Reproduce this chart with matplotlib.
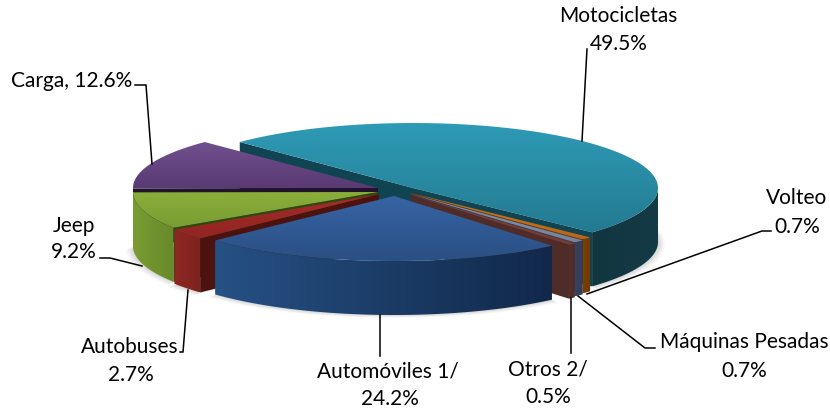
# -*- coding: utf-8 -*-
"""
Exploded 3D style pie, drawn by hand since matplotlib has no such pie
"""
import numpy as np

import matplotlib
matplotlib.use('Agg')
import matplotlib.pyplot as plt
from matplotlib.colors import LinearSegmentedColormap
from matplotlib.patches import Polygon

# Data, clockwise from the start angle
slices = ['Motocicletas', 'Volteo', 'Máquinas Pesadas', 'Otros 2/',
          'Automóviles 1/', 'Autobuses', 'Jeep', 'Carga']
values = [49.5, 0.7, 0.7, 0.5, 24.2, 2.7, 9.2, 12.6]

# Styles per slice: top light, top dark, side left, side right, wall
colours = {
    'Motocicletas': ('#2f9bb6', '#237a90', '#123640', '#143a46', '#114452'),
    'Volteo': ('#d07a24', '#b8661a', '#7a4006', '#6e3905', '#6e3905'),
    'Máquinas Pesadas': ('#8494b6', '#74839f', '#38425f', '#343d58', '#343d58'),
    'Otros 2/': ('#84443c', '#743a33', '#55302b', '#4f2c28', '#4f2c28'),
    'Automóviles 1/': ('#3764a4', '#2a4f83', '#265184', '#11284a', '#11284a'),
    'Autobuses': ('#a42c29', '#922522', '#8e2723', '#7e2320', '#4c1210'),
    'Jeep': ('#8aae3a', '#7a9c33', '#7a9c33', '#688a2a', '#2b4a0e'),
    'Carga': ('#71508f', '#593a73', '#5c3c76', '#4e3266', '#21122e'),
}
# Offset of each slice's tip in pixels
centres = {
    'Motocicletas': (413, 189), 'Volteo': (411, 194),
    'Máquinas Pesadas': (411, 195), 'Otros 2/': (411, 196),
    'Automóviles 1/': (394, 197), 'Autobuses': (379, 195),
    'Jeep': (378, 193), 'Carga': (378, 189),
}
drawOrder = ['Motocicletas', 'Carga', 'Jeep', 'Volteo', 'Máquinas Pesadas',
             'Otros 2/', 'Autobuses', 'Automóviles 1/']

RX, RY, DEPTH = 245, 65, 54
START = 135


def arc(centre, t0, t1, n=80):
    """ Points on the top ellipse between two angles (degrees) """
    t = np.radians(np.linspace(t0, t1, n))
    return np.column_stack((centre[0] + RX * np.cos(t), centre[1] + RY * np.sin(-t)))


def fillGrad(ax, poly, c0, c1, horizontal, z):
    """ Fills a polygon with a linear gradient, clipped with the polygon itself """
    poly = np.asarray(poly)
    x0, y0 = poly.min(axis=0)
    x1, y1 = poly.max(axis=0)
    ramp = np.linspace(0, 1, 128)
    ramp = ramp.reshape(1, -1) if horizontal else ramp.reshape(-1, 1)
    cmap = LinearSegmentedColormap.from_list('g', [c0, c1])
    im = ax.imshow(ramp, cmap=cmap, extent=(x0, x1, y1, y0), origin='upper',
                   aspect='auto', zorder=z, interpolation='bilinear')
    patch = Polygon(poly, closed=True, fc='none', ec='none', transform=ax.transData)
    ax.add_patch(patch)
    im.set_clip_path(patch)


fig = plt.figure(figsize=(8.3, 4.1), dpi=100)
ax = fig.add_axes([0, 0, 1, 1])

# Angles from the values
share = np.array(values) / sum(values) * 360
ends = START - np.cumsum(share)
starts = ends + share
angles = {name: (starts[i], ends[i]) for i, name in enumerate(slices)}

z = 1

# Soft shadow below the pie
for grow, alpha in ((7, 0.06), (5, 0.08), (3, 0.10), (1, 0.12)):
    for name in ['Motocicletas', 'Jeep', 'Autobuses', 'Automóviles 1/']:
        t0, t1 = angles[name]
        c = centres[name]
        pts = arc((c[0], c[1] + DEPTH + grow * 0.4), t0, t1)
        pts[:, 0] += np.sign(pts[:, 0] - c[0]) * grow
        ax.add_patch(Polygon(np.vstack((pts, [(c[0], c[1] + DEPTH)])), fc='#808080',
                             ec='none', alpha=alpha, zorder=z))
z += 1

for name in drawOrder:
    t0, t1 = angles[name]
    c = centres[name]
    topLight, topDark, sideL, sideR, wall = colours[name]

    # Radial walls that face the viewer
    if np.cos(np.radians(t0)) < 0:
        p = arc(c, t0, t0, 2)[1]
        ax.add_patch(Polygon([c, p, (p[0], p[1] + DEPTH), (c[0], c[1] + DEPTH)],
                             fc=wall, ec='none', zorder=z))
    if np.cos(np.radians(t1)) > 0:
        p = arc(c, t1, t1, 2)[1]
        ax.add_patch(Polygon([c, p, (p[0], p[1] + DEPTH), (c[0], c[1] + DEPTH)],
                             fc=wall, ec='none', zorder=z))
    z += 1

    # Outer side, only the part on the front half of the ellipse
    lo, hi = max(t1, -180), min(t0, 0)
    if hi > lo:
        edge = arc(c, hi, lo)
        side = np.vstack((edge, edge[::-1] + [0, DEPTH]))
        fillGrad(ax, side, sideL, sideR, True, z)
        z += 1

    # Top face
    top = np.vstack((arc(c, t0, t1), [c]))
    fillGrad(ax, top, topLight, topDark, False, z)
    z += 1

# Leader lines
leaders = [
    [(587, 50), (582, 142)],
    [(135, 86), (146, 86), (152, 165)],
    [(100, 259), (110, 259), (142, 267)],
    [(180, 353), (183, 353), (188, 291)],
    [(380, 316), (380, 357)],
    [(571, 299), (571, 354)],
    [(578, 297), (645, 349), (655, 349)],
    [(587, 295), (762, 232), (771, 232)],
]
for line in leaders:
    xs, ys = zip(*line)
    ax.plot(xs, ys, color='black', lw=1.1, zorder=z, solid_joinstyle='miter')
z += 1

# Labels, one text each so they keep the reference's line breaks
labelText = [
    ('Motocicletas', 618, 16), ('49.5%', 619, 44),
    ('Carga, 12.6%', 72, 81),
    ('Jeep', 74, 226), ('9.2%', 74, 252),
    ('Autobuses', 130, 347), ('2.7%', 131, 375),
    ('Automóviles 1/', 388, 372), ('24.2%', 390, 399),
    ('Otros 2/', 548, 370), ('0.5%', 548, 397),
    ('Máquinas Pesadas', 744, 342), ('0.7%', 744, 371),
    ('Volteo', 797, 198), ('0.7%', 797, 227),
]
for text, x, y in labelText:
    ax.text(x, y, text, ha='center', va='center', fontsize=15, family='Lato',
            color='black', zorder=z)

ax.set_xlim(0, 830)
ax.set_ylim(410, 0)
ax.axis('off')

fig.savefig('out.png', dpi=100, facecolor='white')
